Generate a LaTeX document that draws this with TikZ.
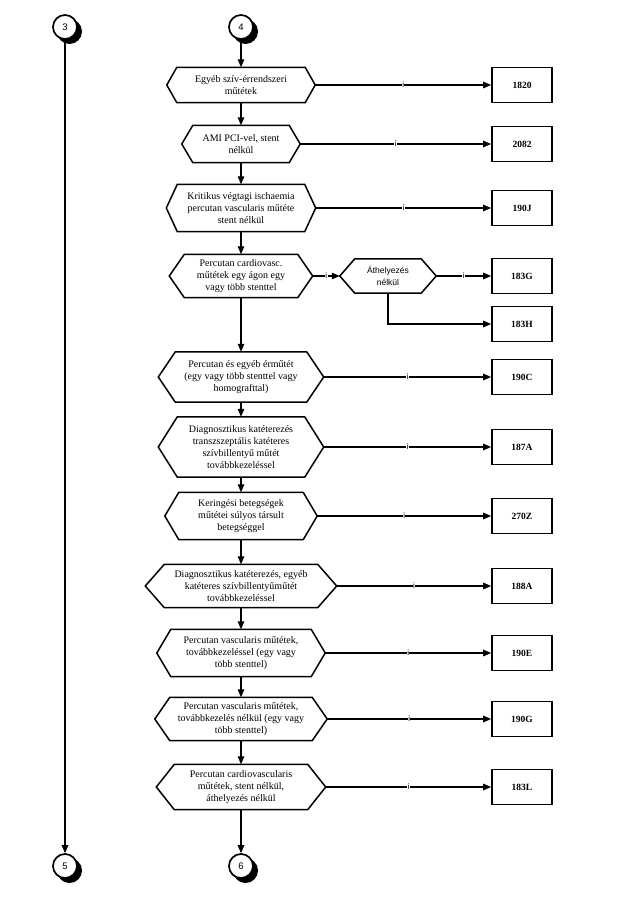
\documentclass[tikz,border=0pt]{standalone}
\usepackage{fontspec}
\setmainfont{Liberation Serif}
\newfontfamily\arialf{Liberation Sans}
\usetikzlibrary{arrows.meta}
\begin{document}
\begin{tikzpicture}[x=1pt,y=-1pt,
  hexn/.style={inner sep=0pt, align=center, font=\fontsize{10}{12}\selectfont},
  codebox/.style={draw, line width=1.6pt, minimum width=60pt, minimum height=35pt, inner sep=0pt, font=\fontsize{9.5}{11}\selectfont\bfseries},
  conn/.style={line width=1.1pt, -{Triangle[length=8pt,width=6.5pt]}},
  lbl/.style={font=\arialf\fontsize{8}{9}\selectfont, inner sep=0.4pt, fill=white},
  circ/.style={circle, draw, line width=1.7pt, fill=white, minimum size=24pt, inner sep=0pt, font=\arialf\fontsize{9.5}{10}\selectfont},
  hexline/.style={line width=1.5pt, line join=miter}
]
\useasboundingbox (0,0) rectangle (622,920);

% connector circles with shadow
\fill (69.5,31.5) circle (12.5pt);
\fill (245.5,31.5) circle (12.5pt);
\fill (69.5,870.5) circle (12.5pt);
\fill (245.5,870.5) circle (12.5pt);
\node[circ] (c3) at (65,27) {3};
\node[circ] (c4) at (241,27) {4};
\node[circ] (c5) at (65,866) {5};
\node[circ] (c6) at (241,866) {6};

% hexagon nodes (text only; outline drawn below)
\node[hexn, minimum width=148pt, minimum height=35pt] (h1) at (241,85) {Egyéb szív-érrendszeri\\műtétek};
\node[hexn, minimum width=118pt, minimum height=37pt] (h2) at (241,144) {AMI PCI-vel, stent\\nélkül};
\node[hexn, minimum width=149pt, minimum height=47pt] (h3) at (241,208) {Kritikus végtagi ischaemia\\percutan vascularis műtéte\\stent nélkül};
\node[hexn, minimum width=143pt, minimum height=43pt] (h4) at (241,276) {Percutan cardiovasc.\\műtétek egy ágon egy\\vagy több stenttel};
\node[hexn, minimum width=165pt, minimum height=50pt] (h5) at (241,377) {Percutan és egyéb érműtét\\(egy vagy több stenttel vagy\\homografttal)};
\node[hexn, minimum width=165pt, minimum height=60pt] (h6) at (241,447) {Diagnosztikus katéterezés\\transzszeptális katéteres\\szívbillentyű műtét\\továbbkezeléssel};
\node[hexn, minimum width=152pt, minimum height=47pt] (h7) at (241,516) {Keringési betegségek\\műtétei súlyos társult\\betegséggel};
\node[hexn, minimum width=191pt, minimum height=43pt] (h8) at (241,586) {Diagnosztikus katéterezés, egyéb\\katéteres szívbillentyűműtét\\továbbkezeléssel};
\node[hexn, minimum width=168pt, minimum height=47pt] (h9) at (241,653) {Percutan vascularis műtétek,\\továbbkezeléssel (egy vagy\\több stenttel)};
\node[hexn, minimum width=172pt, minimum height=43pt] (h10) at (241,719) {Percutan vascularis műtétek,\\továbbkezelés nélkül (egy vagy\\több stenttel)};
\node[hexn, minimum width=169pt, minimum height=45pt] (h11) at (241,787) {Percutan cardiovascularis\\műtétek, stent nélkül,\\áthelyezés nélkül};
\node[hexn, minimum width=96pt, minimum height=34pt, font=\arialf\fontsize{8.5}{11.5}\selectfont] (ath) at (388,276) {Áthelyezés\\nélkül};

\foreach \n/\k in {h1/10,h2/11,h3/11,h4/15,h5/17,h6/19,h7/14,h8/19,h9/14,h10/15,h11/18,ath/15}
  \draw[hexline] (\n.west) -- ([xshift=\k pt]\n.north west) -- ([xshift=-\k pt]\n.north east) -- (\n.east) -- ([xshift=-\k pt]\n.south east) -- ([xshift=\k pt]\n.south west) -- cycle;

% code boxes
\node[codebox] (b1) at (522,85) {1820};
\node[codebox] (b2) at (522,144) {2082};
\node[codebox] (b3) at (522,208) {190J};
\node[codebox] (b4) at (522,276) {183G};
\node[codebox] (b4b) at (522,324) {183H};
\node[codebox] (b5) at (522,377) {190C};
\node[codebox] (b6) at (522,447) {187A};
\node[codebox] (b7) at (522,516) {270Z};
\node[codebox] (b8) at (522,586) {188A};
\node[codebox] (b9) at (522,653) {190E};
\node[codebox] (b10) at (522,719) {190G};
\node[codebox] (b11) at (522,787) {183L};

% vertical flow
\draw[conn] (c3) -- (c5);
\draw[conn] (c4) -- (h1);
\draw[conn] (h1) -- (h2);
\draw[conn] (h2) -- (h3);
\draw[conn] (h3) -- (h4);
\draw[conn] (h4) -- (h5);
\draw[conn] (h5) -- (h6);
\draw[conn] (h6) -- (h7);
\draw[conn] (h7) -- (h8);
\draw[conn] (h8) -- (h9);
\draw[conn] (h9) -- (h10);
\draw[conn] (h10) -- (h11);
\draw[conn] (h11) -- (c6);

% horizontal connectors
\draw[conn] (h1.east) -- node[lbl]{i} (b1.west);
\draw[conn] (h2.east) -- node[lbl]{i} (b2.west);
\draw[conn] (h3.east) -- node[lbl]{i} (b3.west);
\draw[conn] (h4.east) -- node[lbl]{i} (ath.west);
\draw[conn] (ath.east) -- node[lbl]{i} (b4.west);
\draw[conn] (ath.south) |- (b4b.west);
\draw[conn] (h5.east) -- node[lbl]{i} (b5.west);
\draw[conn] (h6.east) -- node[lbl]{i} (b6.west);
\draw[conn] (h7.east) -- node[lbl]{i} (b7.west);
\draw[conn] (h8.east) -- node[lbl]{i} (b8.west);
\draw[conn] (h9.east) -- node[lbl]{i} (b9.west);
\draw[conn] (h10.east) -- node[lbl]{i} (b10.west);
\draw[conn] (h11.east) -- node[lbl]{i} (b11.west);
\end{tikzpicture}
\end{document}
